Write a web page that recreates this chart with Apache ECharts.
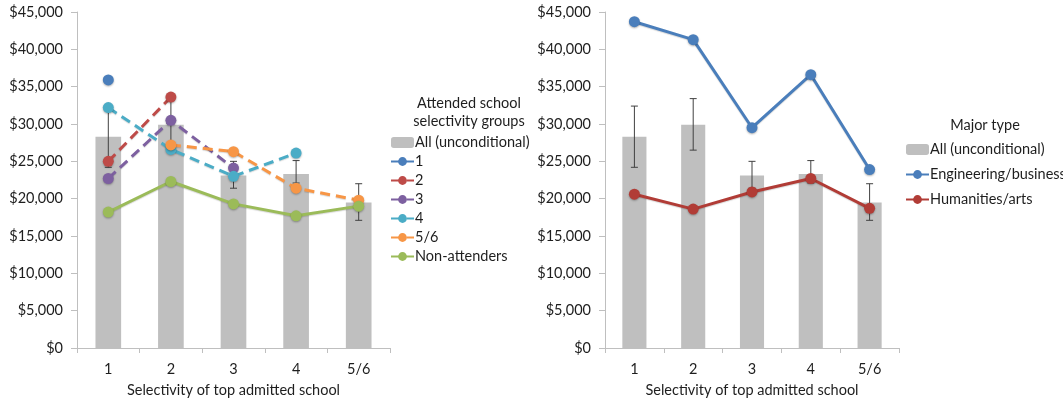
<!DOCTYPE html>
<html>
<head>
<meta charset="utf-8">
<script src="https://cdn.jsdelivr.net/npm/echarts@6/dist/echarts.min.js"></script>
<style>
  html, body { margin: 0; padding: 0; background: #fff; }
  #chart { width: 1063px; height: 404px; }
</style>
</head>
<body>
<div id="chart"></div>
<script>
// Categories: selectivity of the top admitted school
const categories = ['1', '2', '3', '4', '5/6'];

// Unconditional mean earnings and their error-bar bounds
const allMean = [28300, 29900, 23100, 23300, 19500];
const allLow  = [24200, 26500, 21400, 22100, 17100];
const allHigh = [32400, 33400, 25000, 25100, 22000];

// Left panel: by attended school selectivity group
const grp1 = [35900, null, null, null, null];
const grp2 = [25000, 33600, null, null, null];
const grp3 = [22700, 30500, 24100, null, null];
const grp4 = [32200, 26600, 23000, 26100, null];
const grp56 = [null, 27200, 26300, 21400, 19800];
const nonAttenders = [18200, 22300, 19300, 17700, 19000];

// Right panel: by major type
const engBusiness = [43700, 41300, 29500, 36600, 23900];
const humArts = [20600, 18600, 20900, 22700, 18700];

const FONT = 'Lato';
const FS = 14.5;
const TEXT = '#1e1e1e';
const AXIS = '#bfbfbf';

function money(v) {
  return '$' + v.toLocaleString('en-US');
}

function xAxisFor(gridIndex) {
  return {
    type: 'category', gridIndex, data: categories,
    name: 'Selectivity of top admitted school', nameLocation: 'middle', nameGap: 35,
    nameTextStyle: { fontFamily: FONT, fontSize: FS, color: TEXT },
    axisLine: { lineStyle: { color: AXIS, width: 1 } },
    axisTick: { show: true, length: 5, lineStyle: { color: AXIS } },
    axisLabel: { fontFamily: FONT, fontSize: FS, color: TEXT, margin: 14 },
    splitLine: { show: false }
  };
}

function yAxisFor(gridIndex) {
  return {
    type: 'value', gridIndex, min: 0, max: 45000, interval: 5000,
    axisLine: { show: true, lineStyle: { color: AXIS, width: 1 } },
    axisTick: { show: true, length: 6, lineStyle: { color: AXIS } },
    axisLabel: { fontFamily: FONT, fontSize: FS, color: TEXT, margin: 14, formatter: money },
    splitLine: { show: false }
  };
}

function barSeries(idx) {
  return {
    name: 'All (unconditional)', type: 'bar', xAxisIndex: idx, yAxisIndex: idx,
    data: allMean, barWidth: '41%',
    itemStyle: { color: '#bfbfbf' }, z: 1, silent: true
  };
}

function errorSeries(idx) {
  return {
    type: 'custom', xAxisIndex: idx, yAxisIndex: idx, z: 2, silent: true,
    data: categories.map((c, i) => [i, allLow[i], allHigh[i]]),
    encode: { x: 0, y: [1, 2] },
    renderItem: function (params, api) {
      const lo = api.coord([api.value(0), api.value(1)]);
      const hi = api.coord([api.value(0), api.value(2)]);
      const cap = 3.5;
      const style = { stroke: '#404040', lineWidth: 1 };
      return {
        type: 'group',
        children: [
          { type: 'line', shape: { x1: lo[0], y1: lo[1], x2: hi[0], y2: hi[1] }, style },
          { type: 'line', shape: { x1: lo[0] - cap, y1: lo[1], x2: lo[0] + cap, y2: lo[1] }, style },
          { type: 'line', shape: { x1: hi[0] - cap, y1: hi[1], x2: hi[0] + cap, y2: hi[1] }, style }
        ]
      };
    }
  };
}

function lineSeries(name, data, color, idx, dashed) {
  return {
    name, type: 'line', xAxisIndex: idx, yAxisIndex: idx, data,
    symbol: 'circle', symbolSize: 11, showAllSymbol: true, connectNulls: false,
    lineStyle: {
      color, width: 3, type: dashed ? [10, 6] : 'solid',
      shadowColor: 'rgba(0,0,0,0.15)', shadowBlur: 1, shadowOffsetY: 1
    },
    itemStyle: {
      color, shadowColor: 'rgba(0,0,0,0.3)', shadowBlur: 2, shadowOffsetY: 1
    },
    emphasis: { disabled: true }, z: 3
  };
}

const legendText = { fontFamily: FONT, fontSize: FS, color: TEXT, padding: [0, 0, 0, -4] };

const option = {
  animation: false,
  backgroundColor: '#fff',
  title: [
    {
      text: 'Attended school\nselectivity groups', left: 464, top: 89, textAlign: 'center',
      textStyle: { fontFamily: FONT, fontSize: FS, fontWeight: 'normal', color: TEXT, lineHeight: 18 }
    },
    {
      text: 'Major type', left: 980, top: 113, textAlign: 'center',
      textStyle: { fontFamily: FONT, fontSize: FS, fontWeight: 'normal', color: TEXT }
    }
  ],
  legend: [
    {
      orient: 'vertical', left: 390, top: 135, itemWidth: 23, itemHeight: 11, itemGap: 4,
      data: ['All (unconditional)', '1', '2', '3', '4', '5/6', 'Non-attenders'],
      textStyle: legendText, selectedMode: false, padding: 0
    },
    {
      orient: 'vertical', left: 905, top: 142, itemWidth: 23, itemHeight: 11, itemGap: 10,
      data: ['All (unconditional)', 'Engineering/business', 'Humanities/arts'],
      textStyle: legendText, selectedMode: false, padding: 0
    }
  ],
  grid: [
    { left: 77, top: 12, width: 313, height: 336 },
    { left: 605, top: 12, width: 294, height: 336 }
  ],
  xAxis: [xAxisFor(0), xAxisFor(1)],
  yAxis: [yAxisFor(0), yAxisFor(1)],
  series: [
    barSeries(0),
    errorSeries(0),
    lineSeries('1', grp1, '#4a7ebb', 0, false),
    lineSeries('2', grp2, '#be4b48', 0, true),
    lineSeries('3', grp3, '#7d60a0', 0, true),
    lineSeries('4', grp4, '#4bacc6', 0, true),
    lineSeries('5/6', grp56, '#f79646', 0, true),
    lineSeries('Non-attenders', nonAttenders, '#9bbb59', 0, false),
    barSeries(1),
    errorSeries(1),
    lineSeries('Engineering/business', engBusiness, '#4a7ebb', 1, false),
    lineSeries('Humanities/arts', humArts, '#b13c36', 1, false)
  ]
};

echarts.init(document.getElementById('chart'), null, { renderer: 'canvas' }).setOption(option);
</script>
</body>
</html>
